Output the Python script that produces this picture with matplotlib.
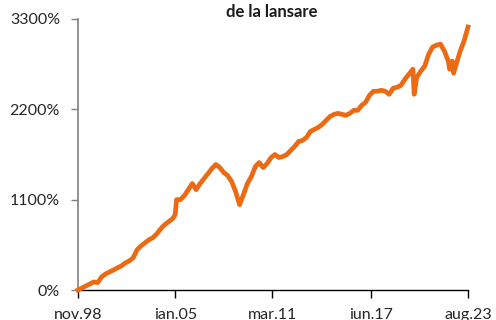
import matplotlib
matplotlib.use('Agg')
import matplotlib.pyplot as plt
import pandas as pd

plt.rcParams['font.family'] = ['Lato', 'DejaVu Sans']

# randament cumulat de la lansare, in %
dates = ['1998-11', '1999-02', '1999-05', '1999-08', '1999-11', '2000-02', '2000-05', '2000-08',
         '2000-11', '2001-02', '2001-05', '2001-08', '2001-11', '2002-02', '2002-05', '2002-08',
         '2002-11', '2003-02', '2003-05', '2003-08', '2003-11', '2004-02', '2004-05', '2004-08',
         '2004-11', '2005-01', '2005-02', '2005-05', '2005-08', '2005-11', '2006-02', '2006-05',
         '2006-08', '2006-11', '2007-02', '2007-05', '2007-08', '2007-11', '2008-02', '2008-05',
         '2008-08', '2008-11', '2009-02', '2009-05', '2009-08', '2009-11', '2010-02', '2010-05',
         '2010-08', '2010-11', '2011-02', '2011-05', '2011-08', '2011-11', '2012-02', '2012-05',
         '2012-08', '2012-11', '2013-02', '2013-05', '2013-08', '2013-11', '2014-02', '2014-05',
         '2014-08', '2014-11', '2015-02', '2015-05', '2015-08', '2015-11', '2016-02', '2016-05',
         '2016-08', '2016-11', '2017-02', '2017-05', '2017-08', '2017-11', '2018-02', '2018-05',
         '2018-08', '2018-11', '2019-02', '2019-05', '2019-08', '2019-11', '2020-02', '2020-03',
         '2020-05', '2020-08', '2020-11', '2021-02', '2021-05', '2021-08', '2021-11', '2022-02',
         '2022-05', '2022-06', '2022-08', '2022-09', '2022-11', '2023-02', '2023-05', '2023-08']
returns = [0, 24, 49, 73, 98, 90, 159, 196,
           220, 244, 269, 293, 330, 354, 391, 489,
           538, 574, 611, 636, 684, 746, 795, 831,
           868, 917, 1100, 1100, 1149, 1222, 1296, 1222,
           1296, 1357, 1418, 1479, 1528, 1491, 1430, 1393,
           1320, 1198, 1039, 1161, 1296, 1381, 1503, 1552,
           1491, 1540, 1613, 1650, 1613, 1625, 1650, 1699,
           1748, 1809, 1821, 1858, 1931, 1956, 1980, 2017,
           2066, 2114, 2139, 2151, 2139, 2127, 2151, 2188,
           2188, 2249, 2286, 2371, 2420, 2420, 2432, 2420,
           2383, 2457, 2469, 2493, 2567, 2628, 2689, 2383,
           2591, 2664, 2726, 2872, 2958, 2982, 2994, 2909,
           2787, 2689, 2787, 2640, 2750, 2909, 3031, 3202]

tick_dates = ['1998-11', '2005-01', '2011-03', '2017-06', '2023-08']
tick_labels = ['nov.98', 'ian.05', 'mar.11', 'iun.17', 'aug.23']
y_ticks = [0, 1100, 2200, 3300]

x = pd.to_datetime(dates)
fig = plt.figure(figsize=(4.96, 3.2), dpi=100)
ax = fig.add_axes([78 / 496, 1 - 290 / 320, 390 / 496, 271 / 320])
ax.plot(x, returns, color='#EC6A12', lw=3.4, solid_joinstyle='round', clip_on=False, zorder=3)

ax.set_xlim(pd.Timestamp('1998-11-01'), pd.Timestamp('2023-08-01'))
ax.set_ylim(0, 3300)
ax.set_xticks(pd.to_datetime(tick_dates))
ax.set_xticklabels(tick_labels)
ax.set_yticks(y_ticks)
ax.set_yticklabels([f'{v}%' for v in y_ticks])

for side in ['top', 'right']:
    ax.spines[side].set_visible(False)
ax.spines['left'].set_color('#808080')
ax.spines['left'].set_linewidth(1.2)
ax.spines['bottom'].set_color('black')
ax.spines['bottom'].set_linewidth(1.0)
ax.tick_params(axis='y', direction='out', length=5, width=1, color='#808080',
               labelsize=11.5, labelcolor='#262626', pad=8)
ax.tick_params(axis='x', direction='out', length=6, width=1, color='black',
               labelsize=11.5, labelcolor='#262626', pad=7)

fig.text(272 / 496, 1 - 12 / 320, 'de la lansare', ha='center', va='center',
         fontsize=12, fontweight='bold', color='#1a1a1a')

plt.savefig('out.png', dpi=100)
plt.close()
